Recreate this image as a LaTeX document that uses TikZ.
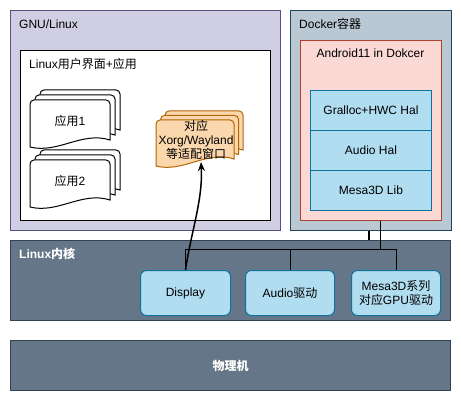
\documentclass[tikz,border=0pt]{standalone}
\usepackage{fontspec}
\setmainfont{Liberation Sans}
\newfontfamily\cjk{Noto Sans CJK SC}
\newcommand\zh[1]{{\cjk #1}}
\usetikzlibrary{arrows.meta}
\definecolor{gnuF}{HTML}{D0CEE2}
\definecolor{gnuS}{HTML}{56517E}
\definecolor{dkF}{HTML}{BAC8D3}
\definecolor{dkS}{HTML}{23445D}
\definecolor{anF}{HTML}{FAD9D5}
\definecolor{anS}{HTML}{AE4132}
\definecolor{blF}{HTML}{B1DDF0}
\definecolor{blS}{HTML}{10739E}
\definecolor{knF}{HTML}{647687}
\definecolor{knS}{HTML}{314354}
\definecolor{orF}{HTML}{FAD7AC}
\definecolor{orS}{HTML}{B46504}
\newcommand\doclayer[6]{%
  \filldraw[fill=#5, draw=#6, line width=1pt]
    (#1,{#2+#4-2}) -- (#1,{#2+4}) arc[start angle=180,end angle=270,radius=4]
    -- ({#1+#3-4},#2) arc[start angle=270,end angle=360,radius=4]
    -- ({#1+#3},{#2+#4-9})
    .. controls ({#1+0.65*#3},{#2+#4-18}) and ({#1+0.35*#3},{#2+#4+5}) .. (#1,{#2+#4-2}) -- cycle;}
\newcommand\multidoc[7]{%
  \doclayer{#1+2*#5}{#2-2*#5}{#3}{#4}{#6}{#7}%
  \doclayer{#1+#5}{#2-#5}{#3}{#4}{#6}{#7}%
  \doclayer{#1}{#2}{#3}{#4}{#6}{#7}}
\begin{document}
\begin{tikzpicture}[x=1pt,y=-1pt,font=\fontsize{12}{14}\selectfont,
  box/.style={draw, line width=1pt, inner sep=0pt, anchor=north west, rectangle, align=center},
  lbl/.style={inner sep=0pt, anchor=west},
  drv/.style={box, fill=blF, draw=blS, rounded corners=6pt, minimum height=45},
  hal/.style={box, fill=blF, draw=blS, minimum width=121, minimum height=40},
  conn/.style={draw=black, line width=1pt},
  wlbl/.style={text=white, font=\fontsize{12}{14}\selectfont\bfseries}]
\useasboundingbox (0,0) rectangle (461,401);
% GNU/Linux
\node[box, fill=gnuF, draw=gnuS, minimum width=270, minimum height=220] (gnu) at (10,10) {};
\node[lbl] (gnul) at (19,24) {GNU/Linux};
\node[box, fill=white, draw=black, minimum width=250, minimum height=170] (ui) at (20,50) {};
\node[lbl] (uil) at (29,64) {Linux\zh{用户界面}+\zh{应用}};
\multidoc{30}{100}{80}{49}{5}{white}{black}
\node (app1) at (70,121) {\zh{应用}1};
\multidoc{30}{160}{80}{49}{5}{white}{black}
\node (app2) at (70,181) {\zh{应用}2};
\multidoc{156}{120}{78}{48}{4.5}{orF}{orS}
\node[align=center, inner sep=0pt] (xorg) at (196,140) {\zh{对应}\\Xorg/Wayland\\\zh{等适配窗口}};
\coordinate (xorgb) at (201,162);
% Docker
\node[box, fill=dkF, draw=dkS, minimum width=161, minimum height=220] (docker) at (290,10) {};
\node[lbl] (dockl) at (299,24) {Docker\zh{容器}};
\node[box, fill=anF, draw=anS, minimum width=141, minimum height=180] (android) at (300,40) {};
\node (andl) at (370.5,53) {Android11 in Dokcer};
\node[hal] (gralloc) at (310,90) {Gralloc+HWC Hal};
\node[hal] (ahal) at (310,130) {Audio Hal};
\node[hal] (mesalib) at (310,170) {Mesa3D Lib};
% Kernel
\node[box, fill=knF, draw=knS, minimum width=440, minimum height=80] (kernel) at (10,240) {};
\node[lbl, wlbl] (kernl) at (19,254) {Linux\zh{内核}};
\node[drv, minimum width=90] (display) at (140,270) {Display};
\node[drv, minimum width=89] (audio) at (245,270) {Audio\zh{驱动}};
\node[drv, minimum width=89] (mesa) at (351,270) {Mesa3D\zh{系列}\\\zh{对应}GPU\zh{驱动}};
% Physical
\node[box, fill=knF, draw=knS, minimum width=440, minimum height=50, wlbl] (phys) at (10,340) {\zh{物理机}};
% connectors
\coordinate (split) at (380.5,250);
\draw[conn] (android.south -| split) -- (split) -| (display.north);
\draw[conn] (android.south -| split) -- (split) -| (audio.north);
\draw[conn] (android.south -| split) -- (split) -| (mesa.north);
\coordinate (dk) at (369,235);
\draw[line width=2pt] (docker.south -| dk) -- (kernel.north -| dk);
\draw[line width=1.5pt, -{Stealth[length=9pt,width=7pt]}] (display.north) .. controls (191,232) and (203,200) .. (xorgb);
\end{tikzpicture}
\end{document}
